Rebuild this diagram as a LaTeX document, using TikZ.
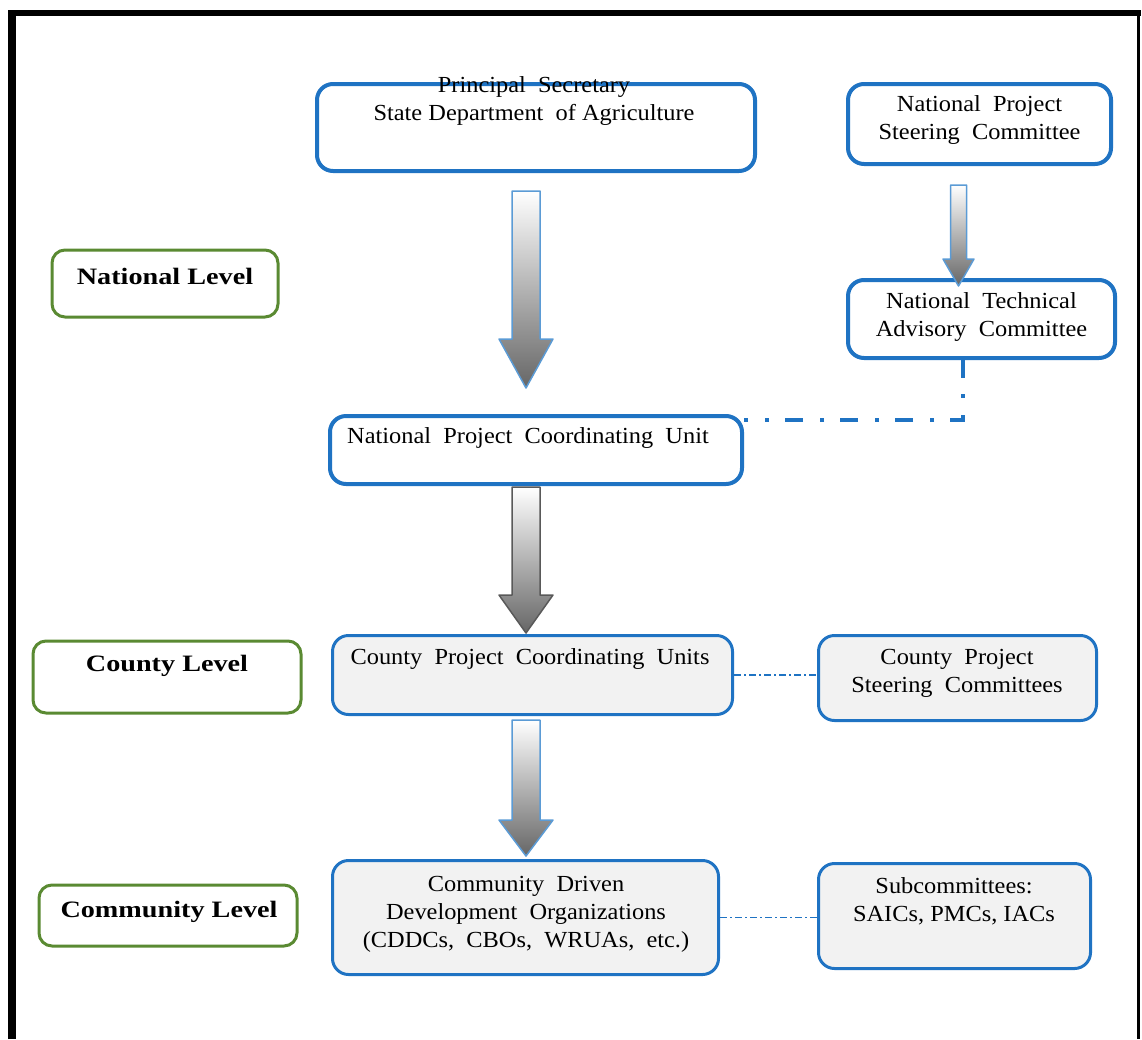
\documentclass[tikz,border=0pt]{standalone}
\usepackage{fontspec}
\setmainfont{Liberation Serif}[FakeStretch=1.06]
\newfontfamily\lvlfont{Liberation Serif}[FakeStretch=1.2]
\usetikzlibrary{calc}
\definecolor{boxblue}{HTML}{1F73C3}
\definecolor{boxgreen}{HTML}{5A8A32}
\definecolor{boxgray}{HTML}{F2F2F2}
\definecolor{arrgray}{HTML}{666666}
\definecolor{arrblue}{HTML}{5B9BD5}
\newcommand\blockarrow[6]{%
  \shade[top color=white,bottom color=arrgray,draw=#6,line width=1.5pt,line join=round]
    let \p1=(#1), \p2=(#2) in
    (\x1-#3pt,\y1) -- (\x1+#3pt,\y1) -- (\x1+#3pt,\y2+#5pt) -- (\x1+#4pt,\y2+#5pt)
    -- (\x1,\y2) -- (\x1-#4pt,\y2+#5pt) -- (\x1-#3pt,\y2+#5pt) -- cycle;}
\begin{document}
\begin{tikzpicture}[x=1pt,y=-1pt,
  bluebox/.style={draw=boxblue,line width=4pt,rounded corners=16pt,fill=white,inner sep=0pt},
  graybox/.style={draw=boxblue,line width=3pt,rounded corners=16pt,fill=boxgray,inner sep=0pt},
  greenbox/.style={draw=boxgreen,line width=3pt,rounded corners=13pt,fill=white,inner sep=0pt},
  txt/.style={align=center,inner sep=0pt,font=\fontsize{23}{28}\selectfont},
  btxt/.style={align=center,inner sep=0pt,font=\lvlfont\fontsize{23.5}{28}\selectfont\bfseries},
  bigdd/.style={draw=boxblue,line width=4pt,dash pattern=on 18pt off 16pt on 4pt off 17pt},
  thindd/.style={draw=boxblue,line width=1.3pt,dash pattern=on 7pt off 3pt on 2pt off 3pt}]
\useasboundingbox (0,0) rectangle (1142,1039);
% frame
\draw[line width=8pt] (12,1039) -- (12,10);
\draw[line width=6pt] (8,13) -- (1141,13);
\draw[line width=3pt] (1138.5,10) -- (1138.5,1039);

% boxes
\node[bluebox,minimum width=438,minimum height=87] (ps) at (536,127.5) {};
\node[txt] (pst) at (534,101) {Principal\ \ Secretary\\State Department\ \ of Agriculture};
\node[bluebox,minimum width=263,minimum height=80] (npsc) at (979.5,124) {};
\node[txt] (npsct) at (979.5,120) {National\ \ Project\\Steering\ \ Committee};
\node[bluebox,minimum width=267,minimum height=78] (ntac) at (981.5,319) {};
\node[txt] (ntact) at (981.5,316.5) {National\ \ Technical\\Advisory\ \ Committee};
\node[bluebox,minimum width=412,minimum height=68] (npcu) at (536,450) {};
\node[txt] (npcut) at (528,438) {National\ \ Project\ \ Coordinating\ \ Unit};
\node[greenbox,minimum width=226,minimum height=67] (natl) at (165,283.5) {};
\node[btxt] (natlt) at (165,276) {National Level};

\node[graybox,minimum width=400,minimum height=79] (cpcu) at (532.5,675) {};
\node[txt] (cpcut) at (530,659) {County\ \ Project\ \ Coordinating\ \ Units};
\node[graybox,minimum width=278,minimum height=85] (cpsc) at (957.5,678) {};
\node[txt] (cpsct) at (957,673) {County\ \ Project\\Steering\ \ Committees};
\node[greenbox,minimum width=268,minimum height=72] (cntl) at (167,677) {};
\node[btxt] (cntlt) at (167,666) {County Level};

\node[graybox,minimum width=386,minimum height=114] (cddo) at (525.5,917.5) {};
\node[txt] (cddot) at (526,914) {Community\ \ Driven\\Development\ \ Organizations\\(CDDCs,\ \ CBOs,\ \ WRUAs,\ \ etc.)};
\node[graybox,minimum width=272,minimum height=105] (sub) at (954.5,916) {};
\node[txt] (subt) at (954,901) {Subcommittees:\\SAICs, PMCs, IACs};
\node[greenbox,minimum width=258,minimum height=61] (coml) at (168,915.5) {};
\node[btxt] (comlt) at (169,912) {Community Level};

% block arrows
\coordinate (a1s) at (526,191);  \coordinate (a1e) at (526,388);
\coordinate (a2s) at (958.5,185); \coordinate (a2e) at (958.5,286);
\coordinate (a3s) at (526,487);  \coordinate (a3e) at (526,633);
\coordinate (a4s) at (526,720);  \coordinate (a4e) at (526,856);
\blockarrow{a1s}{a1e}{14}{27}{49}{arrblue}
\blockarrow{a2s}{a2e}{8}{15.5}{27}{arrblue}
\blockarrow{a3s}{a3e}{14}{27}{38}{black!65}
\blockarrow{a4s}{a4e}{14}{27}{36}{arrblue}

% dash-dot connectors
\coordinate (k) at (963,420);
\draw[bigdd] (ntac.south -| k) -- (k) -- (npcu.east |- k);
\draw[thindd] (cpcu.east) -- (cpcu.east -| cpsc.west);
\draw[thindd] (cddo.east) -- (cddo.east -| sub.west);
\end{tikzpicture}
\end{document}
